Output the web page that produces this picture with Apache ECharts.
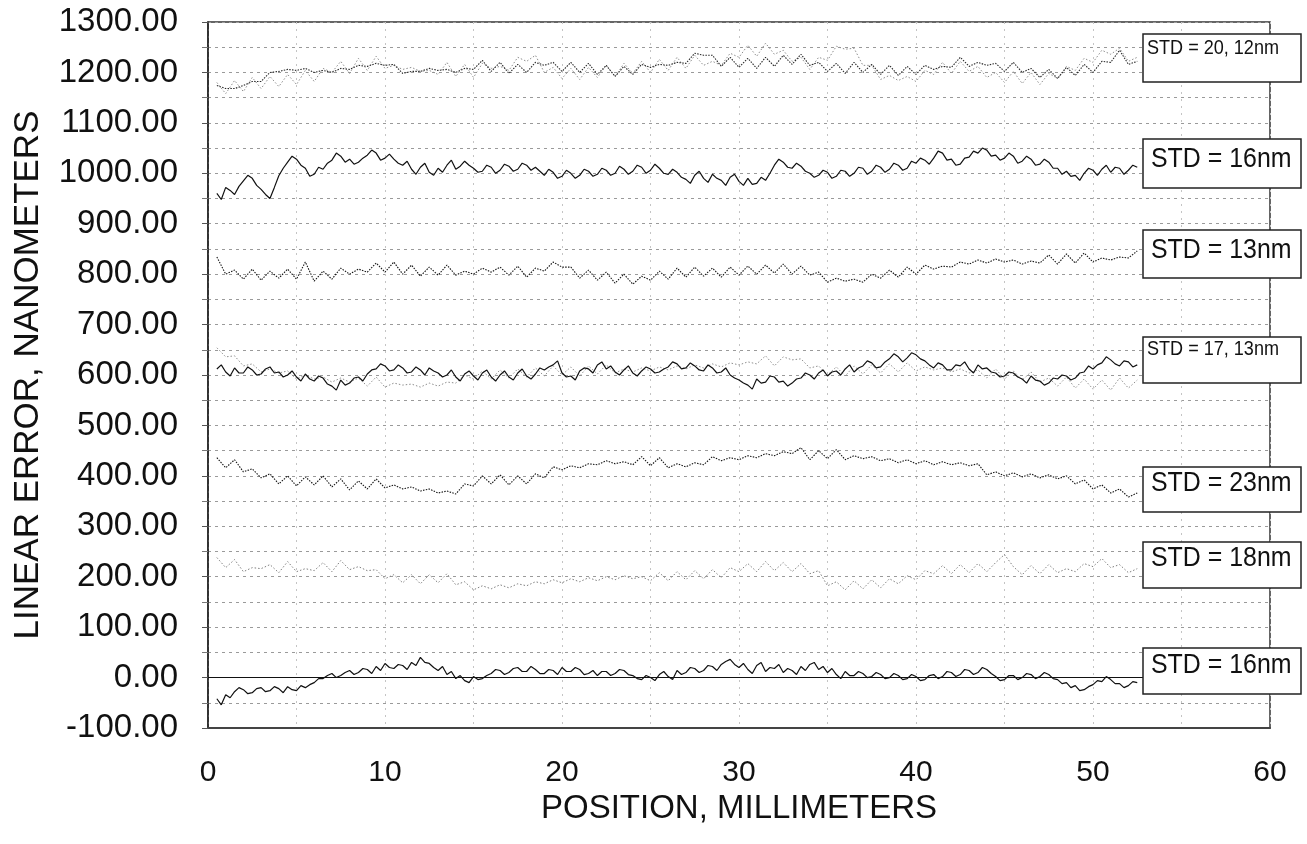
<!DOCTYPE html>
<html><head><meta charset="utf-8">
<script src="https://cdn.jsdelivr.net/npm/echarts@6/dist/echarts.min.js"></script>
<style>html,body{margin:0;padding:0;background:#fff}#c{width:1307px;height:844px}</style>
</head><body><div id="c"></div>
<script>
// Sample positions (mm): coarse grid for the dotted traces, fine grid for the solid traces
const positions = [0.5,1,1.5,2,2.5,3,3.5,4,4.5,5, 5.5,6,6.5,7,7.5,8,8.5,9,9.5,10, 10.5,11,11.5,12,12.5,13,13.5,14,14.5,15, 15.5,16,16.5,17,17.5,18,18.5,19,19.5,20, 20.5,21,21.5,22,22.5,23,23.5,24,24.5,25, 25.5,26,26.5,27,27.5,28,28.5,29,29.5,30, 30.5,31,31.5,32,32.5,33,33.5,34,34.5,35, 35.5,36,36.5,37,37.5,38,38.5,39,39.5,40, 40.5,41,41.5,42,42.5,43,43.5,44,44.5,45, 45.5,46,46.5,47,47.5,48,48.5,49,49.5,50, 50.5,51,51.5,52,52.5];
const positionsFine = [
0.5,0.75,1,1.25,1.5,1.75,2,2.25,2.5,2.75,3,3.25,3.5,3.75,4,4.25,4.5,4.75,5,5.25,
5.5,5.75,6,6.25,6.5,6.75,7,7.25,7.5,7.75,8,8.25,8.5,8.75,9,9.25,9.5,9.75,10,10.25,
10.5,10.75,11,11.25,11.5,11.75,12,12.25,12.5,12.75,13,13.25,13.5,13.75,14,14.25,14.5,14.75,15,15.25,
15.5,15.75,16,16.25,16.5,16.75,17,17.25,17.5,17.75,18,18.25,18.5,18.75,19,19.25,19.5,19.75,20,20.25,
20.5,20.75,21,21.25,21.5,21.75,22,22.25,22.5,22.75,23,23.25,23.5,23.75,24,24.25,24.5,24.75,25,25.25,
25.5,25.75,26,26.25,26.5,26.75,27,27.25,27.5,27.75,28,28.25,28.5,28.75,29,29.25,29.5,29.75,30,30.25,
30.5,30.75,31,31.25,31.5,31.75,32,32.25,32.5,32.75,33,33.25,33.5,33.75,34,34.25,34.5,34.75,35,35.25,
35.5,35.75,36,36.25,36.5,36.75,37,37.25,37.5,37.75,38,38.25,38.5,38.75,39,39.25,39.5,39.75,40,40.25,
40.5,40.75,41,41.25,41.5,41.75,42,42.25,42.5,42.75,43,43.25,43.5,43.75,44,44.25,44.5,44.75,45,45.25,
45.5,45.75,46,46.25,46.5,46.75,47,47.25,47.5,47.75,48,48.25,48.5,48.75,49,49.25,49.5,49.75,50,50.25,
50.5,50.75,51,51.25,51.5,51.75,52,52.25,52.5];

// Linear error traces (nm), offset bands
const trace1200a = [1174,1168,1168,1174,1182,1182,1200,1202,1206,1204, 1208,1200,1204,1200,1208,1206,1214,1212,1218,1214, 1216,1198,1202,1202,1208,1204,1206,1200,1208,1206, 1224,1202,1220,1198,1216,1200,1220,1214,1220,1202, 1220,1200,1218,1196,1214,1192,1212,1196,1216,1210, 1216,1214,1220,1218,1238,1234,1234,1212,1230,1210, 1228,1208,1230,1212,1234,1216,1236,1214,1220,1202, 1218,1198,1220,1200,1216,1196,1214,1194,1212,1196, 1214,1206,1212,1210,1230,1212,1220,1214,1218,1202, 1220,1200,1208,1190,1206,1188,1210,1194,1216,1200, 1222,1220,1244,1216,1222];
const trace1200b = [1180,1158,1184,1162,1190,1168,1192,1172,1196,1176, 1204,1182,1208,1200,1222,1198,1228,1204,1232,1208, 1214,1206,1210,1202,1204,1196,1220,1192,1216,1190, 1218,1208,1212,1204,1230,1222,1234,1200,1210,1188, 1208,1186,1210,1190,1214,1192,1218,1198,1222,1200, 1226,1204,1230,1208,1234,1214,1222,1214,1238,1230, 1254,1232,1258,1236,1244,1222,1230,1206,1230,1224, 1252,1246,1248,1214,1214,1186,1194,1184,1192,1182, 1204,1196,1220,1198,1222,1202,1212,1190,1200,1180, 1202,1178,1200,1176,1198,1188,1212,1204,1228,1220, 1244,1236,1248,1222,1230];
const trace1000 = [
960,948,972,966,958,974,985,996,990,976,968,958,950,972,995,1010,1022,1034,1028,1016,
1010,994,998,1012,1008,1020,1026,1040,1034,1022,1028,1018,1022,1030,1036,1046,1040,1026,1030,1038,
1028,1020,1016,1024,1008,998,1012,1020,1002,996,1010,1002,1016,1026,1008,1014,1024,1016,1010,1002,
1004,1016,1012,1000,1006,1018,1014,1004,1008,1020,1016,1006,1012,1004,996,1008,1002,990,994,1006,
1000,990,996,1008,1004,994,998,1010,1006,996,1000,1014,1008,998,1004,1016,1012,1000,1006,1018,
1010,1000,998,1008,1002,992,988,980,996,1004,990,982,998,990,986,976,992,998,984,976,
990,978,980,992,986,1000,1016,1028,1022,1012,1010,1020,1014,1004,1000,992,996,1006,1002,990,
994,1006,1004,994,1000,1012,1010,998,1004,1016,1012,1002,1008,1020,1016,1006,1010,1024,1020,1030,
1026,1018,1030,1044,1040,1026,1028,1016,1018,1030,1032,1044,1040,1050,1046,1034,1036,1026,1030,1040,
1034,1020,1024,1034,1028,1016,1018,1028,1022,1010,1010,998,1004,994,996,986,1000,1010,1006,996,
1008,1016,1002,1012,1010,998,1006,1016,1012];
const trace800 = [834,800,808,790,810,788,806,792,810,790, 824,786,806,790,812,800,810,804,822,804, 824,800,818,796,814,798,818,798,806,800, 812,804,814,798,816,794,812,806,824,814, 814,792,808,788,804,782,800,780,796,788, 806,790,812,794,814,796,812,794,814,798, 816,800,818,802,820,800,816,798,804,784, 792,786,790,784,800,792,808,794,814,800, 818,810,816,814,824,820,828,822,830,824, 828,820,826,822,838,820,840,822,842,824, 832,828,834,832,846];
const trace600a = [
612,620,606,598,614,604,604,616,610,600,602,612,616,604,606,596,600,608,596,588,
602,592,588,598,594,582,578,570,590,580,584,594,596,588,602,610,612,622,618,608,
610,620,614,604,606,616,610,600,614,608,604,596,600,610,596,588,602,608,598,590,
604,610,596,588,600,608,596,590,604,612,598,592,602,614,610,616,620,628,604,596,
598,590,608,614,612,604,620,626,612,618,606,600,610,618,604,598,608,616,612,604,
606,612,616,626,622,612,614,624,618,610,608,620,614,604,606,614,600,594,590,584,
580,572,592,584,586,598,596,586,588,578,584,592,594,604,600,592,604,610,598,606,
608,600,612,620,606,614,618,628,624,614,616,626,632,642,636,626,634,644,640,632,
628,620,614,624,620,610,610,620,618,626,612,604,620,612,614,606,604,596,598,606,
604,596,592,584,598,590,588,580,584,594,592,600,598,590,594,604,606,618,612,620,
624,636,630,622,618,628,626,616,620];
const trace600b = [654,636,638,618,622,606,612,604,608,592, 600,592,596,586,594,586,594,578,596,576, 584,580,582,576,584,578,586,584,600,592, 608,592,610,594,612,596,614,598,618,600, 616,598,618,602,620,604,612,606,614,608, 616,610,618,612,620,614,622,616,624,620, 626,622,638,618,636,630,632,614,618,600, 616,598,618,602,620,604,622,606,624,608, 616,610,614,606,612,604,610,594,612,592, 608,590,606,586,594,578,596,574,592,572, 590,570,594,574,590];
const trace400 = [436,416,432,408,414,396,404,384,400,380, 398,382,400,378,394,372,390,374,394,376, 382,374,378,370,374,366,370,364,384,380, 400,384,402,382,400,384,404,396,418,412, 420,416,424,422,430,424,428,422,438,420, 436,416,424,418,426,422,438,430,436,432, 440,436,444,440,448,444,456,432,450,434, 452,432,440,434,438,430,434,426,432,424, 430,422,428,422,426,420,424,402,408,400, 406,398,404,396,402,394,400,384,392,374, 382,366,374,358,366];
const trace200 = [238,218,234,210,218,216,224,208,230,210, 216,212,228,210,232,214,220,212,214,196, 204,188,204,186,204,188,206,184,190,174, 182,176,184,178,186,182,190,186,194,188, 196,190,198,192,200,194,202,196,200,192, 208,192,210,194,212,196,214,198,218,210, 226,210,230,212,228,210,226,206,212,182, 190,174,192,176,194,178,196,186,202,194, 212,206,222,206,224,208,226,210,228,244, 220,204,222,206,224,208,216,210,226,220, 236,218,224,208,216];
const trace0 = [
-42,-54,-34,-40,-28,-20,-24,-32,-30,-22,-20,-28,-26,-18,-22,-30,-18,-24,-26,-16,
-20,-14,-10,-2,-2,4,8,0,4,10,14,6,10,18,16,8,22,14,28,20,
18,26,24,16,30,24,40,30,28,20,14,22,6,12,-2,4,-6,-10,2,-4,
-2,4,8,16,14,6,10,18,20,12,12,22,16,8,8,16,14,6,20,12,
12,20,16,6,8,14,4,12,12,4,8,16,14,6,4,-2,-4,4,0,-6,
6,12,2,-4,14,6,10,20,18,10,14,24,22,14,26,32,36,26,20,28,
16,8,24,30,12,20,18,26,10,18,14,6,22,14,26,30,16,22,10,18,
6,-2,12,4,4,12,8,0,2,10,6,-2,0,8,4,-4,-2,6,2,-6,
-4,4,6,-2,2,12,10,2,6,16,14,6,10,20,16,8,2,-6,-4,4,
4,-4,0,8,6,-2,2,10,6,-2,-4,-12,-10,-20,-16,-26,-24,-18,-14,-6,
-8,2,-4,-12,-12,-20,-16,-8,-10];

const stdLabels = ['STD = 20, 12nm','STD = 16nm','STD = 13nm','STD = 17, 13nm','STD = 23nm','STD = 18nm','STD = 16nm'];
const xTicks = [0,10,20,30,40,50,60];

const FONT = '"Liberation Sans", Arial, Helvetica, sans-serif';
const chart = echarts.init(document.getElementById('c'), null, {renderer:'canvas'});

function pts(xs, vals){ return xs.map((x,i)=>[x, vals[i]]); }
function trace(name, xs, vals, color, width, dash, z, extra){
  return Object.assign({
    name, type:'line', data: pts(xs, vals), showSymbol:false, symbol:'none',
    smooth:false, animation:false, z,
    lineStyle:{color, width, type: dash || 'solid'}
  }, extra || {});
}

const series = [
  trace('1200 b', positions, trace1200b, '#8e8e8e', 1, [1.5,2], 2),
  trace('1200 a', positions, trace1200a, '#2a2a2a', 1.1, [1.5,1.3], 3),
  trace('1000', positionsFine, trace1000, '#111', 1.2, 'solid', 4),
  trace('800', positions, trace800, '#151515', 1.1, [1.5,1.3], 3),
  trace('600 b', positions, trace600b, '#8e8e8e', 1, [1.5,2], 2),
  trace('600 a', positionsFine, trace600a, '#111', 1.2, 'solid', 4),
  trace('400', positions, trace400, '#151515', 1.1, [1.5,1.3], 3),
  trace('200', positions, trace200, '#7e7e7e', 1, [1.5,2], 2),
  trace('0', positionsFine, trace0, '#111', 1.2, 'solid', 4, {
    markLine:{silent:true, symbol:'none', animation:false, label:{show:false},
      lineStyle:{color:'#111', type:'solid', width:1.2}, data:[{yAxis:0}]}
  })
];

const boxTops = [34,139,230,337,467,542,648];
const boxHeights = [48,49,48,46,45,46,46];
const textCenters = [48,159,250,349,483,558,665];
const graphics = [];
stdLabels.forEach((t,i)=>{
  const small = t.indexOf(',') >= 0;
  graphics.push({type:'rect', x:1143, y:boxTops[i], z:100,
    shape:{x:0,y:0,width:158,height:boxHeights[i]},
    style:{fill:'#fff', stroke:'#222', lineWidth:1.5}});
  graphics.push({type:'text', x: small ? 1147 : 1151, y:textCenters[i], z:101,
    scaleX: small ? 0.86 : 0.89,
    style:{text:t, fill:'#111', font: (small ? '21px ' : '28px ') + FONT,
      align:'left', verticalAlign:'middle', textAlign:'left', textVerticalAlign:'middle'}});
});

chart.setOption({
  animation:false,
  backgroundColor:'#fff',
  grid:{left:208, right:37, top:22, bottom:116, show:true, borderColor:'#333', borderWidth:1.5, backgroundColor:'transparent'},
  xAxis:{
    type:'value', min:xTicks[0], max:xTicks[xTicks.length-1], interval:10,
    axisLine:{show:true, onZero:false, lineStyle:{color:'#444', width:2}},
    axisTick:{show:false},
    minorTick:{show:false, splitNumber:2},
    axisLabel:{fontSize:30, color:'#111', margin:30, fontFamily:FONT},
    splitLine:{show:true, lineStyle:{color:'#c4c4c4', type:[2,5], width:1}},
    minorSplitLine:{show:true, lineStyle:{color:'#c4c4c4', type:[2,5], width:1}},
    name:'POSITION, MILLIMETERS', nameLocation:'middle', nameGap:62,
    nameTextStyle:{fontSize:33, color:'#111', fontFamily:FONT}
  },
  yAxis:{
    type:'value', min:-100, max:1300, interval:100,
    axisLine:{show:true, onZero:false, lineStyle:{color:'#222', width:1.5}},
    axisTick:{show:true, length:6, lineStyle:{color:'#555'}},
    minorTick:{show:true, splitNumber:2, length:6, lineStyle:{color:'#777'}},
    axisLabel:{fontSize:33, color:'#111', margin:30, fontFamily:FONT, formatter:v=>v.toFixed(2)},
    splitLine:{show:true, lineStyle:{color:'#9a9a9a', type:[3,4], width:1}},
    minorSplitLine:{show:true, lineStyle:{color:'#9a9a9a', type:[3,4], width:1}},
    name:'LINEAR ERROR, NANOMETERS', nameLocation:'middle', nameGap:162,
    nameTextStyle:{fontSize:35, color:'#111', fontFamily:FONT}
  },
  series,
  graphic: graphics
});
</script>
</body></html>
